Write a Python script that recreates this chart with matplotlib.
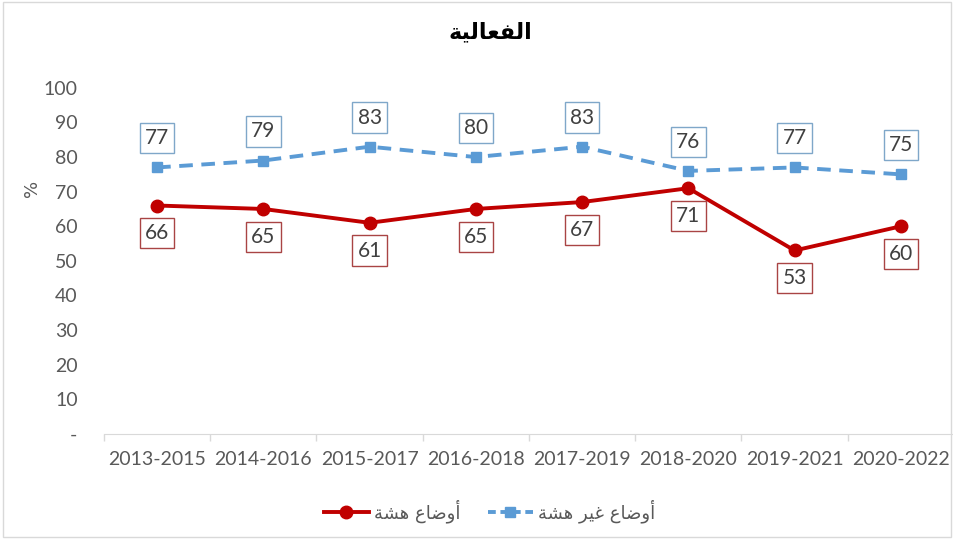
import matplotlib
matplotlib.use('Agg')
import matplotlib.pyplot as plt
from matplotlib.lines import Line2D
from matplotlib.patches import Rectangle

# Data
periods = ['2013-2015', '2014-2016', '2015-2017', '2016-2018',
           '2017-2019', '2018-2020', '2019-2021', '2020-2022']
fragile = [66, 65, 61, 65, 67, 71, 53, 60]
non_fragile = [77, 79, 83, 80, 83, 76, 77, 75]
yticks = [0, 10, 20, 30, 40, 50, 60, 70, 80, 90, 100]
ytick_labels = ['-'] + [str(v) for v in yticks[1:]]

title = 'الفعالية'
label_fragile = 'أوضاع هشة'
label_non_fragile = 'أوضاع غير هشة'

# minimal Arabic shaping (matplotlib has no bidi/shaping)
FORMS = {
    'ا': (0xFE8D, 0xFE8E), 'أ': (0xFE83, 0xFE84), 'و': (0xFEED, 0xFEEE),
    'ر': (0xFEAD, 0xFEAE), 'ة': (0xFE93, 0xFE94),
    'ل': (0xFEDD, 0xFEDE, 0xFEDF, 0xFEE0), 'ف': (0xFED1, 0xFED2, 0xFED3, 0xFED4),
    'ع': (0xFEC9, 0xFECA, 0xFECB, 0xFECC), 'ي': (0xFEF1, 0xFEF2, 0xFEF3, 0xFEF4),
    'ض': (0xFEBD, 0xFEBE, 0xFEBF, 0xFEC0), 'ه': (0xFEE9, 0xFEEA, 0xFEEB, 0xFEEC),
    'ش': (0xFEB5, 0xFEB6, 0xFEB7, 0xFEB8), 'غ': (0xFECD, 0xFECE, 0xFECF, 0xFED0),
}


def shape(s):
    out = []
    for i, c in enumerate(s):
        if c not in FORMS:
            out.append(c)
            continue
        prev = s[i - 1] if i > 0 else ''
        nxt = s[i + 1] if i + 1 < len(s) else ''
        jp = prev in FORMS and len(FORMS[prev]) == 4
        jn = len(FORMS[c]) == 4 and nxt in FORMS
        f = FORMS[c]
        if jp and jn:
            cp = f[3]
        elif jp:
            cp = f[1]
        elif jn:
            cp = f[2]
        else:
            cp = f[0]
        out.append(chr(cp))
    return ''.join(reversed(out))


plt.rcParams['font.family'] = ['Lato', 'DejaVu Sans']

fig = plt.figure(figsize=(9.54, 5.39), dpi=100)
ax = fig.add_axes([0.109, 0.195, 0.891, 0.642])

red = '#c00000'
blue = '#5b9bd5'
x = list(range(len(periods)))

ax.plot(x, fragile, color=red, lw=2.8, marker='o', ms=9, zorder=3)
ax.plot(x, non_fragile, color=blue, lw=2.8, ls=(0, (3.5, 2.2)), marker='s', ms=7, zorder=3)

for xi, v in zip(x, fragile):
    ax.annotate(str(v), (xi, v), xytext=(0, -20), textcoords='offset points',
                ha='center', va='center', fontsize=15, color='#404040',
                bbox=dict(boxstyle='square,pad=0.25', fc='white', ec='#a94444', lw=1))
for xi, v in zip(x, non_fragile):
    ax.annotate(str(v), (xi, v), xytext=(0, 21), textcoords='offset points',
                ha='center', va='center', fontsize=15, color='#404040',
                bbox=dict(boxstyle='square,pad=0.25', fc='white', ec='#7fa7c9', lw=1))

ax.set_xlim(-0.5, len(periods) - 0.5)
ax.set_ylim(0, 100)
ax.set_yticks(yticks)
ax.set_yticklabels(ytick_labels)
ax.set_xticks(x)
ax.set_xticklabels(periods)
ax.set_xticks([i - 0.5 for i in range(len(periods) + 1)], minor=True)
ax.tick_params(axis='x', which='major', length=0, pad=12, labelsize=14, labelcolor='#595959')
ax.tick_params(axis='x', which='minor', length=5, color='#d9d9d9', width=1)
ax.tick_params(axis='y', length=0, pad=19, labelsize=14, labelcolor='#595959')
for s in ['top', 'right', 'left']:
    ax.spines[s].set_visible(False)
ax.spines['bottom'].set_color('#d9d9d9')

ax.set_ylabel('%', fontsize=13, color='#595959', family='DejaVu Sans')
ax.yaxis.set_label_coords(-0.074, 0.71)

fig.text(0.514, 0.94, shape(title), ha='center', va='center', fontsize=16,
         fontweight='bold', family='DejaVu Sans')

handles = [
    Line2D([], [], color=red, lw=2.8, marker='o', ms=9),
    Line2D([], [], color=blue, lw=2.8, ls=(0, (2, 1.2)), marker='s', ms=7),
]
fig.legend(handles, [shape(label_fragile), shape(label_non_fragile)],
           loc='center', bbox_to_anchor=(0.513, 0.052), ncol=2, frameon=False,
           prop={'family': 'DejaVu Sans', 'size': 13}, labelcolor='#595959',
           handlelength=2.5, handletextpad=0.3, columnspacing=1.5)

fig.patches.append(Rectangle((0.003, 0.003), 0.994, 0.994, transform=fig.transFigure,
                             fill=False, ec='#d9d9d9', lw=1))

fig.savefig('out.png', dpi=100)
